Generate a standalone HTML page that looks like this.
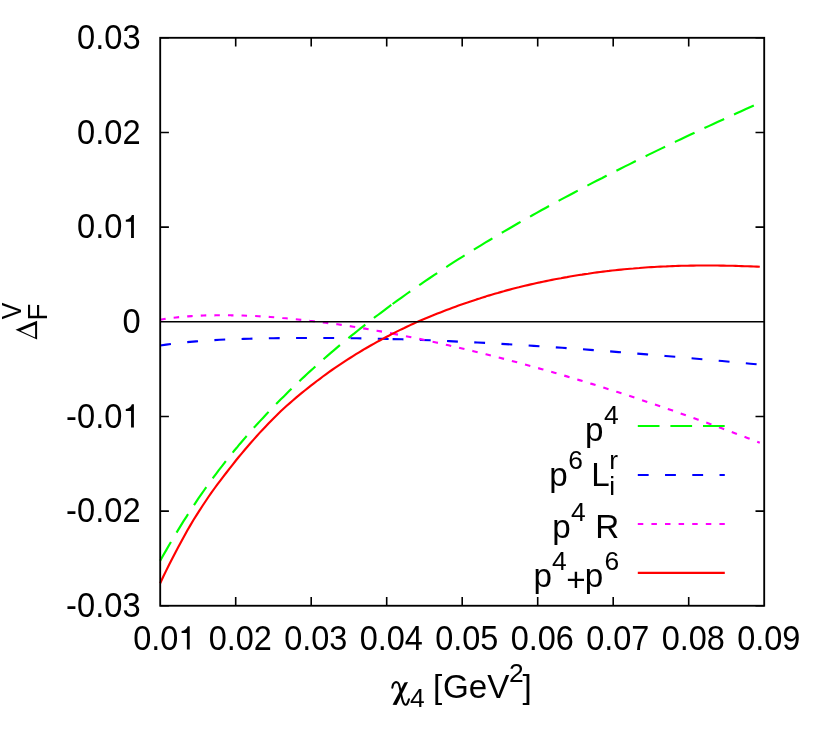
<!DOCTYPE html>
<html><head><meta charset="utf-8"><title>plot</title>
<style>
html,body{margin:0;padding:0;background:#fff;}
svg{display:block;}
text{font-family:"Liberation Sans",sans-serif;font-size:33.2px;fill:#000;}
.s{font-size:26.4px;}
</style></head><body>
<svg style="will-change:transform" width="822" height="743" viewBox="0 0 822 743">
<rect width="822" height="743" fill="#fff"/>
<!-- curves -->
<g fill="none" stroke-width="2.15" stroke-linejoin="round">
<path d="M160.2,560.8 L163.1,555.6 L166.1,550.4 L169.0,545.3 L172.0,540.2 L174.9,535.3 L177.9,530.4 L180.8,525.6 L183.7,520.9 L186.7,516.3 L189.6,511.7 L192.6,507.2 L195.5,502.8 L198.4,498.4 L201.4,494.2 L204.3,490.0 L207.3,485.8 L210.2,481.8 L213.2,477.7 L216.1,473.8 L219.0,469.9 L222.0,466.1 L224.9,462.3 L227.9,458.6 L230.8,454.9 L233.7,451.3 L236.7,447.8 L239.6,444.2 L242.6,440.8 L245.5,437.4 L248.5,434.0 L251.4,430.6 L254.3,427.3 L257.3,424.1 L260.2,420.9 L263.2,417.7 L266.1,414.5 L269.0,411.4 L272.0,408.3 L274.9,405.3 L277.9,402.3 L280.8,399.3 L283.8,396.4 L286.7,393.5 L289.6,390.6 L292.6,387.7 L295.5,384.9 L298.5,382.1 L301.4,379.3 L304.3,376.6 L307.3,373.8 L310.2,371.1 L313.2,368.5 L316.1,365.8 L319.1,363.2 L322.0,360.6 L324.9,358.0 L327.9,355.4 L330.8,352.9 L333.8,350.4 L336.7,347.9 L339.6,345.4 L342.6,343.0 L345.5,340.5 L348.5,338.1 L351.4,335.7 L354.4,333.4 L357.3,331.0 L360.2,328.7 L363.2,326.3 L366.1,324.0 L369.1,321.8 L372.0,319.5 L374.9,317.2 L377.9,315.0 L380.8,312.8 L383.8,310.6 L386.7,308.4 L389.7,306.2 L392.6,304.0" stroke="#00ff00" stroke-dasharray="21.7 10.9"/>
<path d="M392.6,304.0 L397.2,300.7 L401.9,297.3 L406.5,294.0 L411.2,290.7 L415.8,287.5 L420.5,284.3 L425.1,281.1 L429.8,278.0 L434.4,274.9 L439.1,271.8 L443.7,268.7 L448.4,265.7 L453.0,262.7 L457.7,259.7 L462.3,256.8 L467.0,253.9 L471.6,251.0 L476.3,248.1 L480.9,245.3 L485.6,242.4 L490.2,239.7 L494.9,236.9 L499.5,234.1 L504.2,231.4 L508.8,228.7 L513.5,226.0 L518.1,223.3 L522.7,220.7 L527.4,218.1 L532.0,215.5 L536.7,212.9 L541.3,210.3 L546.0,207.7 L550.6,205.2 L555.3,202.7 L559.9,200.1 L564.6,197.6 L569.2,195.2 L573.9,192.7 L578.5,190.2 L583.2,187.8 L587.8,185.4 L592.5,182.9 L597.1,180.5 L601.8,178.2 L606.4,175.8 L611.1,173.4 L615.7,171.1 L620.4,168.7 L625.0,166.4 L629.7,164.1 L634.3,161.8 L638.9,159.5 L643.6,157.2 L648.2,154.9 L652.9,152.6 L657.5,150.4 L662.2,148.1 L666.8,145.9 L671.5,143.6 L676.1,141.4 L680.8,139.2 L685.4,137.0 L690.1,134.8 L694.7,132.6 L699.4,130.4 L704.0,128.3 L708.7,126.1 L713.3,124.0 L718.0,121.8 L722.6,119.7 L727.3,117.5 L731.9,115.4 L736.6,113.3 L741.2,111.2 L745.9,109.1 L750.5,107.0 L755.2,104.9 L759.8,102.8" stroke="#00ff00" stroke-dasharray="21.7 10.9"/>
<path d="M160.2,345.5 L166.2,344.6 L172.1,343.8 L178.1,343.1 L184.0,342.4 L190.0,341.9 L196.0,341.4 L201.9,340.9 L207.9,340.5 L213.8,340.1 L219.8,339.8 L225.7,339.5 L231.7,339.3 L237.7,339.1 L243.6,338.9 L249.6,338.7 L255.5,338.5 L261.5,338.4 L267.5,338.3 L273.4,338.2 L279.4,338.1 L285.3,338.1 L291.3,338.0 L297.3,338.0 L303.2,338.0 L309.2,338.0 L315.1,338.0 L321.1,338.0 L327.1,338.0 L333.0,338.0 L339.0,338.1 L344.9,338.1 L350.9,338.2 L356.8,338.3 L362.8,338.4 L368.8,338.5 L374.7,338.6 L380.7,338.8 L386.6,338.9 L392.6,339.1" stroke="#0000ff" stroke-dasharray="10.85 16.39"/>
<path d="M392.6,339.1 L402.0,339.3 L411.4,339.6 L420.8,340.0 L430.3,340.3 L439.7,340.7 L449.1,341.1 L458.5,341.6 L467.9,342.0 L477.3,342.5 L486.8,343.0 L496.2,343.5 L505.6,344.1 L515.0,344.7 L524.4,345.2 L533.8,345.9 L543.2,346.5 L552.7,347.1 L562.1,347.8 L571.5,348.5 L580.9,349.1 L590.3,349.9 L599.7,350.6 L609.2,351.3 L618.6,352.1 L628.0,352.8 L637.4,353.6 L646.8,354.4 L656.2,355.2 L665.6,356.0 L675.1,356.8 L684.5,357.6 L693.9,358.5 L703.3,359.3 L712.7,360.2 L722.1,361.0 L731.6,361.9 L741.0,362.8 L750.4,363.7 L759.8,364.6" stroke="#0000ff" stroke-dasharray="10.85 16.39"/>
<path d="M160.2,319.7 L164.1,319.0 L168.1,318.5 L172.0,317.9 L176.0,317.5 L179.9,317.1 L183.8,316.7 L187.8,316.4 L191.7,316.1 L195.7,315.9 L199.6,315.7 L203.5,315.5 L207.5,315.4 L211.4,315.3 L215.3,315.3 L219.3,315.2 L223.2,315.2 L227.2,315.2 L231.1,315.3 L235.0,315.3 L239.0,315.4 L242.9,315.5 L246.9,315.7 L250.8,315.8 L254.7,316.0 L258.7,316.2 L262.6,316.5 L266.6,316.7 L270.5,317.0 L274.4,317.3 L278.4,317.6 L282.3,318.0 L286.2,318.3 L290.2,318.7 L294.1,319.1 L298.1,319.5 L302.0,319.9 L305.9,320.3 L309.9,320.8 L313.8,321.2 L317.8,321.7 L321.7,322.2 L325.6,322.7 L329.6,323.3 L333.5,323.8 L337.5,324.3 L341.4,324.9 L345.3,325.5 L349.3,326.1 L353.2,326.7 L357.1,327.3 L361.1,328.0 L365.0,328.6 L369.0,329.3 L372.9,330.0 L376.8,330.7 L380.8,331.4 L384.7,332.1 L388.7,332.8 L392.6,333.6" stroke="#ff00ff" stroke-dasharray="5.5 8.1"/>
<path d="M392.6,333.6 L398.8,334.8 L405.0,336.0 L411.3,337.2 L417.5,338.5 L423.7,339.8 L429.9,341.2 L436.2,342.5 L442.4,343.9 L448.6,345.3 L454.8,346.8 L461.1,348.2 L467.3,349.7 L473.5,351.2 L479.7,352.7 L486.0,354.3 L492.2,355.9 L498.4,357.4 L504.6,359.0 L510.9,360.7 L517.1,362.3 L523.3,364.0 L529.5,365.7 L535.7,367.4 L542.0,369.2 L548.2,370.9 L554.4,372.7 L560.6,374.5 L566.9,376.4 L573.1,378.2 L579.3,380.1 L585.5,382.0 L591.8,383.9 L598.0,385.8 L604.2,387.8 L610.4,389.8 L616.7,391.8 L622.9,393.8 L629.1,395.8 L635.3,397.9 L641.5,400.0 L647.8,402.1 L654.0,404.2 L660.2,406.3 L666.4,408.4 L672.7,410.6 L678.9,412.8 L685.1,415.0 L691.3,417.2 L697.6,419.5 L703.8,421.7 L710.0,424.0 L716.2,426.3 L722.5,428.6 L728.7,430.9 L734.9,433.2 L741.1,435.5 L747.4,437.9 L753.6,440.3 L759.8,442.7" stroke="#ff00ff" stroke-dasharray="5.5 8.1"/>
<path d="M160.2,583.3 L163.2,576.8 L166.2,570.6 L169.2,564.5 L172.3,558.5 L175.3,552.7 L178.3,547.1 L181.3,541.5 L184.3,536.0 L187.3,530.6 L190.3,525.4 L193.3,520.3 L196.4,515.4 L199.4,510.7 L202.4,506.0 L205.4,501.5 L208.4,497.0 L211.4,492.7 L214.4,488.5 L217.4,484.4 L220.5,480.4 L223.5,476.4 L226.5,472.5 L229.5,468.6 L232.5,464.8 L235.5,461.0 L238.5,457.3 L241.6,453.6 L244.6,450.0 L247.6,446.5 L250.6,443.0 L253.6,439.6 L256.6,436.2 L259.6,432.9 L262.6,429.7 L265.7,426.5 L268.7,423.3 L271.7,420.2 L274.7,417.2 L277.7,414.2 L280.7,411.3 L283.7,408.5 L286.7,405.8 L289.8,403.1 L292.8,400.5 L295.8,397.9 L298.8,395.4 L301.8,392.9 L304.8,390.5 L307.8,388.1 L310.9,385.7 L313.9,383.4 L316.9,381.0 L319.9,378.8 L322.9,376.5 L325.9,374.3 L328.9,372.1 L331.9,370.0 L335.0,367.9 L338.0,365.9 L341.0,363.9 L344.0,361.9 L347.0,359.9 L350.0,358.0 L353.0,356.1 L356.0,354.2 L359.1,352.3 L362.1,350.5 L365.1,348.7 L368.1,347.0 L371.1,345.3 L374.1,343.6 L377.1,341.9 L380.2,340.2 L383.2,338.6 L386.2,337.0 L389.2,335.5 L392.2,333.9 L395.2,332.4 L398.2,330.9 L401.2,329.4 L404.3,328.0 L407.3,326.5 L410.3,325.1 L413.3,323.8 L416.3,322.4 L419.3,321.0 L422.3,319.7 L425.3,318.5 L428.4,317.2 L431.4,316.0 L434.4,314.8 L437.4,313.6 L440.4,312.4 L443.4,311.2 L446.4,310.1 L449.5,308.9 L452.5,307.8 L455.5,306.7 L458.5,305.6 L461.5,304.5 L464.5,303.5 L467.5,302.5 L470.5,301.4 L473.6,300.4 L476.6,299.4 L479.6,298.5 L482.6,297.5 L485.6,296.6 L488.6,295.6 L491.6,294.7 L494.7,293.8 L497.7,293.0 L500.7,292.1 L503.7,291.3 L506.7,290.4 L509.7,289.6 L512.7,288.8 L515.7,288.0 L518.8,287.3 L521.8,286.5 L524.8,285.8 L527.8,285.1 L530.8,284.4 L533.8,283.7 L536.8,283.0 L539.8,282.4 L542.9,281.7 L545.9,281.1 L548.9,280.5 L551.9,279.9 L554.9,279.3 L557.9,278.7 L560.9,278.2 L564.0,277.6 L567.0,277.1 L570.0,276.5 L573.0,276.0 L576.0,275.5 L579.0,275.0 L582.0,274.6 L585.0,274.1 L588.1,273.7 L591.1,273.2 L594.1,272.8 L597.1,272.4 L600.1,272.0 L603.1,271.6 L606.1,271.2 L609.1,270.9 L612.2,270.5 L615.2,270.2 L618.2,269.9 L621.2,269.6 L624.2,269.3 L627.2,269.0 L630.2,268.7 L633.3,268.5 L636.3,268.2 L639.3,268.0 L642.3,267.7 L645.3,267.5 L648.3,267.3 L651.3,267.1 L654.3,267.0 L657.4,266.8 L660.4,266.6 L663.4,266.5 L666.4,266.4 L669.4,266.2 L672.4,266.1 L675.4,266.0 L678.4,265.9 L681.5,265.8 L684.5,265.7 L687.5,265.7 L690.5,265.6 L693.5,265.6 L696.5,265.5 L699.5,265.5 L702.6,265.5 L705.6,265.5 L708.6,265.5 L711.6,265.5 L714.6,265.5 L717.6,265.5 L720.6,265.6 L723.6,265.6 L726.7,265.7 L729.7,265.7 L732.7,265.8 L735.7,265.9 L738.7,266.0 L741.7,266.1 L744.7,266.2 L747.7,266.3 L750.8,266.4 L753.8,266.5 L756.8,266.6 L759.8,266.8" stroke="#ff0000"/>
</g>
<!-- zero line -->
<path d="M160.2,321.78 H764.2" stroke="#000" stroke-width="1.6" fill="none"/>
<!-- frame + ticks -->
<rect x="160.2" y="37.8" width="604.00" height="567.95" fill="none" stroke="#000" stroke-width="1.85"/>
<path d="M235.70,605.75 v-8.7 M235.70,37.8 v8.7 M311.20,605.75 v-8.7 M311.20,37.8 v8.7 M386.70,605.75 v-8.7 M386.70,37.8 v8.7 M462.20,605.75 v-8.7 M462.20,37.8 v8.7 M537.70,605.75 v-8.7 M537.70,37.8 v8.7 M613.20,605.75 v-8.7 M613.20,37.8 v8.7 M688.70,605.75 v-8.7 M688.70,37.8 v8.7 M160.2,37.80 h8.7 M764.2,37.80 h-8.7 M160.2,132.46 h8.7 M764.2,132.46 h-8.7 M160.2,227.12 h8.7 M764.2,227.12 h-8.7 M160.2,416.43 h8.7 M764.2,416.43 h-8.7 M160.2,511.09 h8.7 M764.2,511.09 h-8.7 M160.2,605.75 h8.7 M764.2,605.75 h-8.7" stroke="#000" stroke-width="1.6" fill="none"/>
<!-- tick labels -->
<g><text transform="translate(133.21,649.7) scale(0.978,1.03)">0.0</text><path class="one" transform="translate(189.70,649.50)" d="M0,-23.16 L0,0 L-2.83,0 L-2.83,-16.49 L-8.1,-16.49 L-8.1,-18.46 C-5.04,-18.56 -3.16,-20.35 -1.98,-23.16 Z" fill="#000"/><text transform="translate(240.3,649.7) scale(0.978,1.03)" text-anchor="middle">0.02</text><text transform="translate(315.8,649.7) scale(0.978,1.03)" text-anchor="middle">0.03</text><text transform="translate(391.3,649.7) scale(0.978,1.03)" text-anchor="middle">0.04</text><text transform="translate(466.8,649.7) scale(0.978,1.03)" text-anchor="middle">0.05</text><text transform="translate(542.3,649.7) scale(0.978,1.03)" text-anchor="middle">0.06</text><text transform="translate(617.8,649.7) scale(0.978,1.03)" text-anchor="middle">0.07</text><text transform="translate(693.3,649.7) scale(0.978,1.03)" text-anchor="middle">0.08</text><text transform="translate(768.8,649.7) scale(0.978,1.03)" text-anchor="middle">0.09</text></g>
<g><text transform="translate(140.6,49.0) scale(0.985,1.03)" text-anchor="end">0.03</text><text transform="translate(140.6,143.7) scale(0.985,1.03)" text-anchor="end">0.02</text><text transform="translate(122.42,238.3) scale(0.985,1.03)" text-anchor="end">0.0</text><path class="one" transform="translate(133.90,238.12)" d="M0,-23.16 L0,0 L-2.83,0 L-2.83,-16.49 L-8.1,-16.49 L-8.1,-18.46 C-5.04,-18.56 -3.16,-20.35 -1.98,-23.16 Z" fill="#000"/><text transform="translate(140.6,333.0) scale(0.985,1.03)" text-anchor="end">0</text><text transform="translate(122.42,427.6) scale(0.985,1.03)" text-anchor="end">-0.0</text><path class="one" transform="translate(133.90,427.43)" d="M0,-23.16 L0,0 L-2.83,0 L-2.83,-16.49 L-8.1,-16.49 L-8.1,-18.46 C-5.04,-18.56 -3.16,-20.35 -1.98,-23.16 Z" fill="#000"/><text transform="translate(140.6,522.3) scale(0.985,1.03)" text-anchor="end">-0.02</text><text transform="translate(140.6,617.0) scale(0.985,1.03)" text-anchor="end">-0.03</text></g>
<!-- legend samples -->
<g fill="none" stroke-width="2.15">
<path d="M637.8,426 H724.8" stroke="#00ff00" stroke-dasharray="21.7 10.9"/>
<path d="M637.8,475 H724.8" stroke="#0000ff" stroke-dasharray="10.85 16.39"/>
<path d="M637.8,524 H724.8" stroke="#ff00ff" stroke-dasharray="5.5 8.1"/>
<path d="M637.8,572.8 H724.8" stroke="#ff0000"/>
</g>
<!-- legend labels -->
<g id="leg">
<text x="585" y="440.7">p</text><text class="s" x="604.1" y="423.5">4</text>
<text x="549.2" y="486">p</text><text class="s" x="568.3" y="469.3">6</text><text x="591.3" y="486">L</text><text class="s" x="609.2" y="469.3">r</text><text class="s" x="609.2" y="495.3">i</text>
<text x="552.2" y="538">p</text><text class="s" x="571.1" y="521">4</text><text x="595.3" y="538">R</text>
<text x="533.5" y="587.4">p</text><text class="s" x="552" y="570.2">4</text><text x="566.3" y="590.9">+</text><text x="584.8" y="587.4">p</text><text class="s" x="604.6" y="570.2">6</text>
</g>
<!-- x label -->
<g id="xlab">
<g id="chi" aria-label="chi"><path d="M404.46,682.41 L407.99,682.04 L396.56,704.98 L392.54,704.79Z" fill="#000"/><path d="M392.30,687.76 C392.45,687.18 392.81,685.15 393.21,684.29 C393.62,683.44 394.17,683.01 394.73,682.65 C395.29,682.30 395.93,682.02 396.56,682.17 C397.19,682.31 398.00,682.74 398.50,683.50 C399.01,684.26 399.25,685.43 399.60,686.73 C399.94,688.03 400.23,689.62 400.57,691.29 C400.92,692.96 401.26,695.04 401.67,696.76 C402.07,698.49 402.56,700.39 403.00,701.63 C403.45,702.87 403.88,703.66 404.34,704.18 C404.81,704.71 405.30,704.91 405.80,704.79 C406.31,704.67 406.86,704.37 407.38,703.45 C407.91,702.54 408.70,700.01 408.97,699.32" fill="none" stroke="#000" stroke-width="2.05" stroke-linecap="round" stroke-linejoin="round"/></g>
<text class="s" x="409.9" y="707.4">4</text>
<text x="432.9" y="697.6">[</text><text x="442.9" y="697.6">GeV</text><text class="s" x="508.9" y="682.4">2</text><text x="522.4" y="697.6">]</text>
</g>
<!-- y label -->
<g id="ylab" transform="translate(37.1,339.6) rotate(-90)">
<path d="M0,0 L9.9,-21.6 L18.9,0 Z M2.1,-2.0 L14.8,-2.0 L8.77,-16.5 Z" fill="#000" fill-rule="evenodd"/>
<text class="s" transform="translate(19.2,9.7) scale(1.05,1.05)">F</text>
<text class="s" transform="translate(20.4,-16.1) scale(0.94,1.07)">V</text>
</g>
</svg>
</body></html>
